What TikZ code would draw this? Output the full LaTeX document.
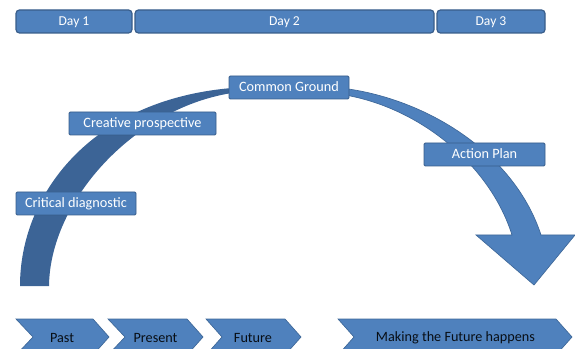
\documentclass[tikz,border=0pt]{standalone}
\usepackage{fontspec}
\setmainfont{Carlito}
\definecolor{blueA}{HTML}{4F81BD}
\definecolor{blueB}{HTML}{385D8A}
\definecolor{blueC}{HTML}{3C6496}
\tikzset{x=0.75pt,y=-0.75pt,
 dayrow/.style={draw=blueB,line width=0.9pt,fill=blueA,rounded corners=2.6pt,text=white,font=\fontsize{10.2pt}{11pt}\selectfont,inner sep=0pt,text height=7pt,text depth=1pt},
 label/.style={draw=blueB,line width=0.7pt,fill=blueA,rounded corners=1pt,text=white,font=\fontsize{10.7pt}{11pt}\selectfont,inner sep=0pt,text height=7pt,text depth=1pt},
 chev/.style={draw=blueB!70!blueA,line width=0.5pt,fill=blueA},
 chevtext/.style={text=black!85!blueB,font=\fontsize{10.65pt}{11pt}\selectfont,inner sep=0pt,anchor=center}}
\begin{document}
\begin{tikzpicture}
\useasboundingbox (0,0) rectangle (575,349);
\clip (0,0) rectangle (575,349);
% arrow, dark rising part
\fill[blueC] (20,286) .. controls (20,195) and (90,100) .. (232,88)
 -- (232,93) .. controls (135,108) and (50,200) .. (49,286) -- cycle;
% arrow, light falling part
\draw[fill=blueA,draw=blueB!70!blueA,line width=0.5pt] (345,88.5)
 .. controls (430,100) and (515,155) .. (541,235) -- (575,235) -- (534,285) -- (476,235) -- (512,235)
 .. controls (490,165) and (420,108) .. (345,95) -- cycle;
% Days
\node[dayrow,minimum width=87pt,minimum height=17.25pt] (d1) at (74,21.5) {Day 1};
\node[dayrow,minimum width=224.25pt,minimum height=17.25pt] (d2) at (284.5,21.5) {Day 2};
\node[dayrow,minimum width=81pt,minimum height=17.25pt] (d3) at (491,21.5) {Day 3};
% Labels
\node[label,minimum width=90pt,minimum height=17.25pt] (cg) at (289,87.5) {Common Ground};
\node[label,minimum width=110.25pt,minimum height=17.25pt] (cp) at (142.5,123.5) {Creative prospective};
\node[label,minimum width=90pt,minimum height=17.25pt] (cd) at (76,203.5) {Critical diagnostic};
\node[label,minimum width=90.75pt,minimum height=17.25pt] (ap) at (484.5,154.5) {Action Plan};
% Chevrons
\draw[chev] (16,319) -- (93,319) -- (109,337) -- (93,355) -- (16,355) -- (33,337) -- cycle;
\draw[chev] (108,319) -- (187,319) -- (203,337) -- (187,355) -- (108,355) -- (125,337) -- cycle;
\draw[chev] (206,319) -- (285,319) -- (301,337) -- (285,355) -- (206,355) -- (222,337) -- cycle;
\draw[chev] (338,319) -- (556,319) -- (572,337) -- (556,355) -- (338,355) -- (354,337) -- cycle;
\node[chevtext] (t1) at (62,338) {Past};
\node[chevtext] (t2) at (155.5,338) {Present};
\node[chevtext] (t3) at (253,338) {Future};
\node[chevtext] (t4) at (455.5,338) {Making the Future happens};
\end{tikzpicture}
\end{document}
